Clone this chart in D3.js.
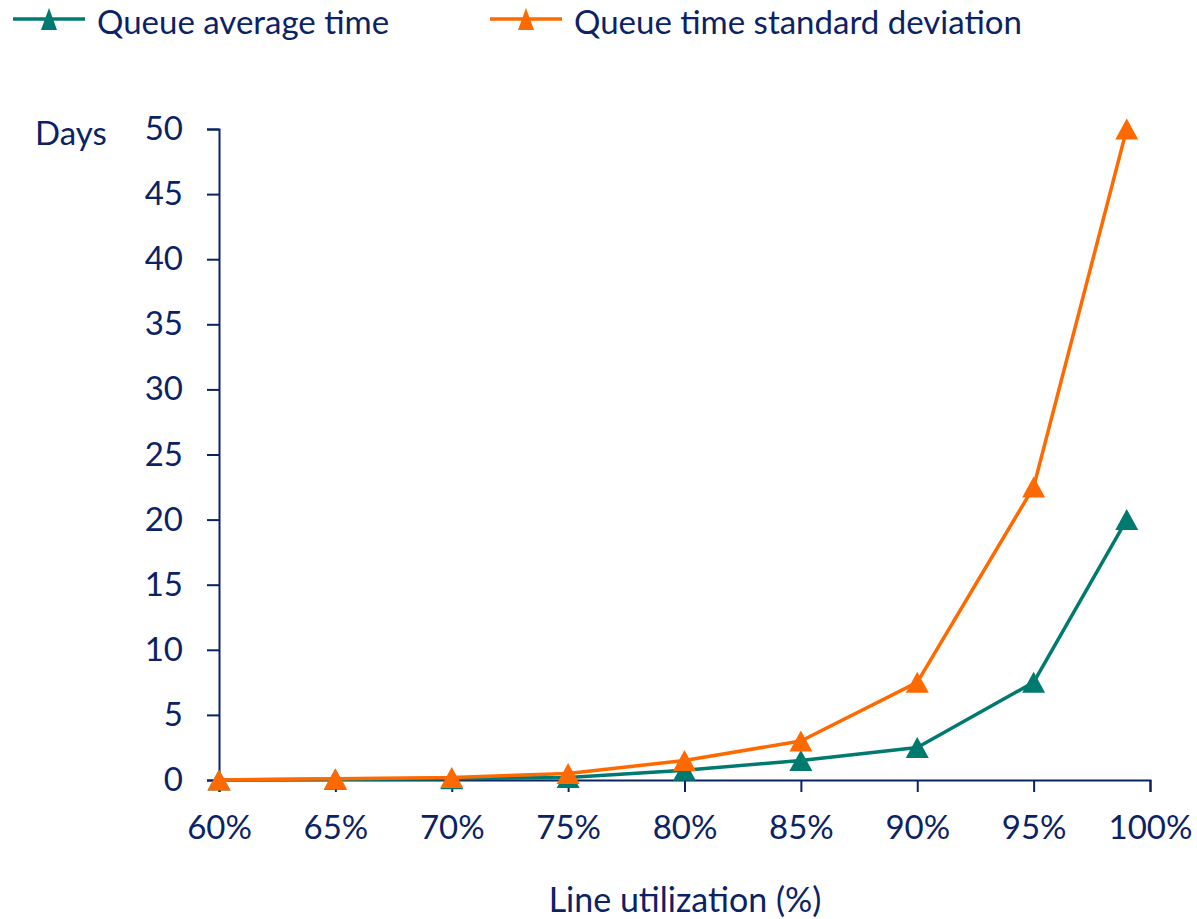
<!DOCTYPE html>
<html>
<head>
<meta charset="utf-8">
<script src="https://cdn.jsdelivr.net/npm/d3@7"></script>
<style>
  html, body { margin: 0; padding: 0; background: #fff; }
  svg text { font-family: Lato, "Open Sans", sans-serif; fill: #0B2265; }
</style>
</head>
<body>
<svg id="chart" width="1197" height="919"></svg>
<script>
// Utilization levels (%) and queue statistics (days)
const utilization = [60, 65, 70, 75, 80, 85, 90, 95, 99];
const queueAverage = [0, 0.05, 0.1, 0.2, 0.75, 1.5, 2.5, 7.5, 20];
const queueStdDev = [0, 0.1, 0.2, 0.5, 1.5, 3, 7.5, 22.5, 50];
const xTicks = [60, 65, 70, 75, 80, 85, 90, 95, 100];
const yTicks = [0, 5, 10, 15, 20, 25, 30, 35, 40, 45, 50];
const seriesNames = ["Queue average time", "Queue time standard deviation"];
const seriesColors = ["#007A6E", "#FF6A00"];

const navy = "#0B2265";
const svg = d3.select("#chart");

const x = d3.scaleLinear().domain([60, 100]).range([219, 1150]);
const y = d3.scaleLinear().domain([0, 50]).range([780, 129]);

// Axes
const xAxis = d3.axisBottom(x).tickValues(xTicks).tickSize(12).tickPadding(24)
  .tickFormat(d => d + "%");
const yAxis = d3.axisLeft(y).tickValues(yTicks).tickSize(12).tickPadding(24);

const gx = svg.append("g").attr("transform", "translate(0,780)").call(xAxis);
const gy = svg.append("g").attr("transform", "translate(219,0)").call(yAxis);
[gx, gy].forEach(g => {
  g.select(".domain").attr("stroke", navy).attr("stroke-width", 2);
  g.selectAll(".tick line").attr("stroke", navy).attr("stroke-width", 2);
  g.selectAll(".tick text").style("font-size", "33px").attr("fill", navy);
});
gx.selectAll(".tick text").attr("dy", "0.71em");

// Axis titles
svg.append("text").attr("x", 35).attr("y", 145).style("font-size", "33px").text("Days");
svg.append("text").attr("x", 685).attr("y", 912).attr("text-anchor", "middle")
  .style("font-size", "34px").text("Line utilization (%)");

// Triangle marker centred on its point
function tri(cx, cy, w = 23, h = 21) {
  return `M${cx},${cy - h / 2}L${cx + w / 2},${cy + h / 2}L${cx - w / 2},${cy + h / 2}Z`;
}

const line = d3.line().x(d => x(d[0])).y(d => y(d[1]));
[queueAverage, queueStdDev].forEach((vals, i) => {
  const pts = utilization.map((u, j) => [u, vals[j]]);
  const g = svg.append("g");
  g.append("path").attr("d", line(pts)).attr("fill", "none")
    .attr("stroke", seriesColors[i]).attr("stroke-width", 3.5).attr("stroke-linejoin", "round");
  g.selectAll("path.m").data(pts).join("path").attr("class", "m")
    .attr("d", d => tri(x(d[0]), y(d[1])))
    .attr("fill", seriesColors[i]);
});

// Legend
const legendX = [13, 490];
seriesNames.forEach((name, i) => {
  const lg = svg.append("g").attr("transform", `translate(${legendX[i]},0)`);
  lg.append("line").attr("x1", 0).attr("x2", 72).attr("y1", 19).attr("y2", 19)
    .attr("stroke", seriesColors[i]).attr("stroke-width", 3.5);
  lg.append("path").attr("d", tri(36, 19, 16, 22)).attr("fill", seriesColors[i]);
  lg.append("text").attr("x", 84).attr("y", 34).style("font-size", "33px").text(name);
});
</script>
</body>
</html>
